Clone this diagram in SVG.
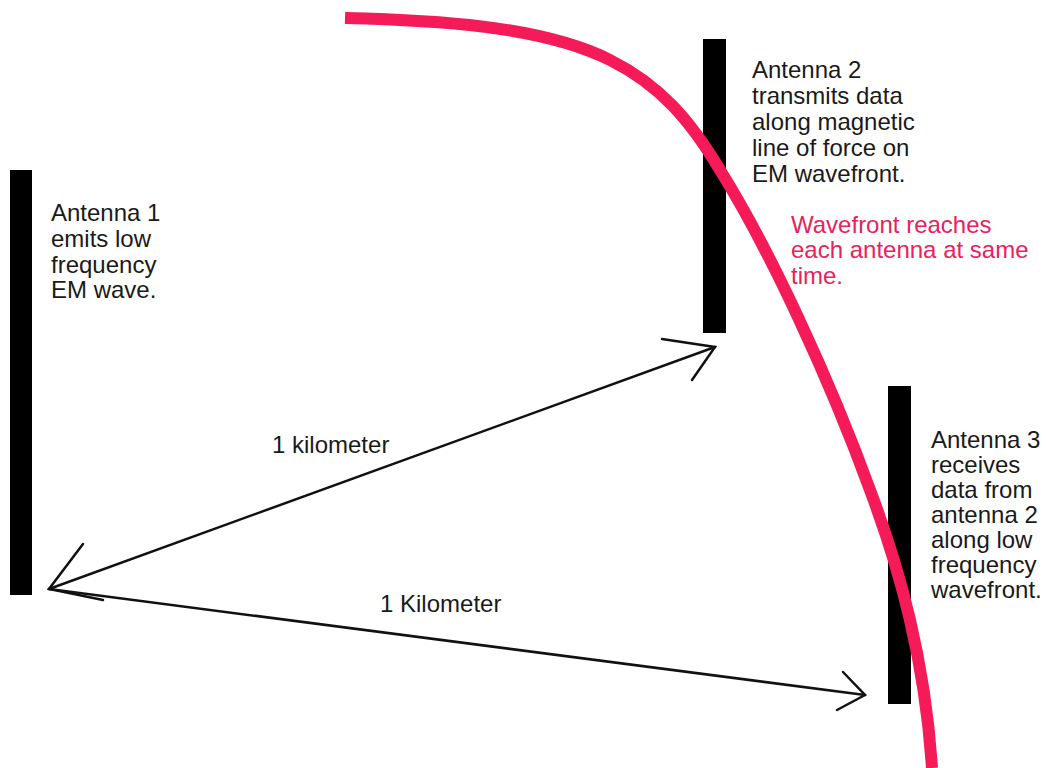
<svg xmlns="http://www.w3.org/2000/svg" width="1050" height="768" viewBox="0 0 1050 768">
  <style>
    .mast { fill: #000; }
    .label { font-family: "Liberation Sans", Arial, sans-serif; font-size: 24px; fill: #1a1a1a; }
    .note { font-family: "Liberation Sans", Arial, sans-serif; font-size: 24px; fill: #e8235c; }
    .link { fill: none; stroke: #111; stroke-width: 2.5; stroke-linecap: round; }
    .wave { fill: none; stroke: #f41b58; stroke-width: 12; stroke-linecap: butt; }
  </style>
  <rect width="1050" height="768" fill="#fff"/>

  <!-- Antenna 1 -->
  <g id="antenna1">
    <rect class="mast" x="10" y="170" width="22" height="425"/>
    <text class="label" x="51">
      <tspan x="51" y="221">Antenna 1</tspan>
      <tspan x="51" y="247">emits low</tspan>
      <tspan x="51" y="273">frequency</tspan>
      <tspan x="51" y="298">EM wave.</tspan>
    </text>
  </g>

  <!-- Antenna 2 -->
  <g id="antenna2">
    <rect class="mast" x="703" y="39" width="23" height="294"/>
    <text class="label">
      <tspan x="752" y="78">Antenna 2</tspan>
      <tspan x="752" y="104">transmits data</tspan>
      <tspan x="752" y="130">along magnetic</tspan>
      <tspan x="752" y="156">line of force on</tspan>
      <tspan x="752" y="182">EM wavefront.</tspan>
    </text>
  </g>

  <!-- Antenna 3 -->
  <g id="antenna3">
    <rect class="mast" x="888" y="386" width="23" height="318"/>
    <text class="label">
      <tspan x="931" y="448">Antenna 3</tspan>
      <tspan x="931" y="473">receives</tspan>
      <tspan x="931" y="498">data from</tspan>
      <tspan x="931" y="523">antenna 2</tspan>
      <tspan x="931" y="548">along low</tspan>
      <tspan x="931" y="573">frequency</tspan>
      <tspan x="931" y="598">wavefront.</tspan>
    </text>
  </g>

  <!-- Distance connectors with open hand-drawn arrowheads -->
  <g id="connectors">
    <g id="link-1-2">
      <line class="link" x1="49" y1="589" x2="715" y2="347"/>
      <polyline class="link" points="83,544 49,589 103,600"/>
      <polyline class="link" points="662,339 715,347 692,380"/>
      <text class="label" x="272" y="453">1 kilometer</text>
    </g>
    <g id="link-1-3">
      <line class="link" x1="49" y1="589" x2="865" y2="695"/>
      <polyline class="link" points="843,672 865,695 837,710"/>
      <text class="label" x="380" y="612">1 Kilometer</text>
    </g>
  </g>

  <!-- EM wavefront -->
  <g id="wavefront">
    <path class="wave" d="M345,18 C430,20 540,25 610,60 C660,85 690,120 720,170 C770,250 830,380 870,490 C900,570 925,660 932,768"/>
    <text class="note">
      <tspan x="791" y="233">Wavefront reaches</tspan>
      <tspan x="791" y="258">each antenna at same</tspan>
      <tspan x="791" y="284">time.</tspan>
    </text>
  </g>
</svg>
